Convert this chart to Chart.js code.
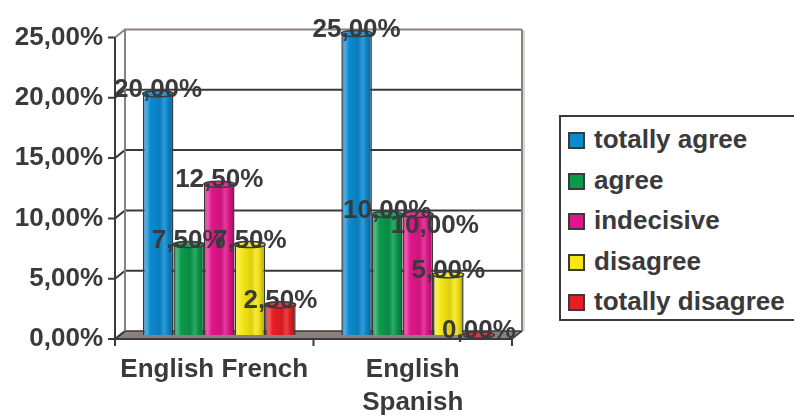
<!DOCTYPE html>
<html>
<head>
<meta charset="utf-8">
<script src="https://cdn.jsdelivr.net/npm/chart.js@4.4.1/dist/chart.umd.min.js"></script>
<style>
  body { margin: 0; background: #fff; }
  #wrap { position: relative; width: 794px; height: 416px; overflow: hidden; }
  #legend {
    position: absolute; left: 559px; top: 115px; width: 260px; height: 202px;
    border: 2px solid #3a3a3c; background: #fff;
    font: bold 26px "Liberation Sans", Arial, sans-serif; color: #3a3a3c;
  }
  #legend div { position: absolute; left: 7px; height: 30px; line-height: 30px; white-space: nowrap; }
  #legend span {
    display: inline-block; width: 13px; height: 13px; border: 2px solid #3a3a3c;
    margin-right: 9px; vertical-align: -1px;
  }
</style>
</head>
<body>
<div id="wrap">
  <canvas id="survey" width="794" height="416"></canvas>
  <div id="legend"></div>
</div>
<script>
(function() {
  "use strict";

  const categories = ['English French', ['English', 'Spanish']];
  const seriesNames = ['totally agree', 'agree', 'indecisive', 'disagree', 'totally disagree'];
  const totallyAgree = [20, 25];
  const agree = [7.5, 10];
  const indecisive = [12.5, 10];
  const disagree = [7.5, 5];
  const totallyDisagree = [2.5, 0];
  const yTicks = [0, 5, 10, 15, 20, 25];
  const colors = ['#0b8ad0', '#0a9a4c', '#e0178a', '#f5e614', '#e81e25'];

  const CAT_PCT = 0.77;
  const DEPTH = { x: 5, y: 4 };
  const INK = '#3a3a3c';
  const WALL = '#8a807c';
  const font = { family: '"Liberation Sans", Arial, sans-serif', size: 26, weight: 'bold', lineHeight: 1.27 };

  // the second 10,00% label is pushed aside so it doesn't sit on its neighbour
  const labelNudge = { '2-1': [17, 15] };

  function pct(v) {
    return v.toFixed(2).replace('.', ',') + '%';
  }

  // lighten (amt > 0) or darken (amt < 0) a hex colour
  function shade(hex, amt) {
    let n = parseInt(hex.slice(1), 16);
    let rgb = [n >> 16, (n >> 8) & 255, n & 255].map(function(c) {
      let v = amt >= 0 ? c + (255 - c) * amt : c * (1 + amt);
      return Math.round(Math.max(0, Math.min(255, v)));
    });
    return 'rgb(' + rgb.join(',') + ')';
  }

  // horizontal gradient so every bar looks like a cylinder
  function cylinder(ctx) {
    let chart = ctx.chart;
    let base = colors[ctx.datasetIndex];
    let xs = chart.scales.x;
    if (!xs || ctx.type !== 'data' || !xs.width) return base;
    let w = xs.width / categories.length * CAT_PCT / seriesNames.length;
    let cx = xs.getPixelForValue(ctx.dataIndex) + (ctx.datasetIndex - (seriesNames.length - 1) / 2) * w;
    let g = chart.ctx.createLinearGradient(cx - w / 2, 0, cx + w / 2, 0);
    g.addColorStop(0, shade(base, 0.05));
    g.addColorStop(0.12, shade(base, 0.3));
    g.addColorStop(0.25, base);
    g.addColorStop(0.55, shade(base, -0.1));
    g.addColorStop(0.7, shade(base, 0.15));
    g.addColorStop(0.82, shade(base, -0.05));
    g.addColorStop(1, shade(base, -0.3));
    return g;
  }

  // back wall, side wall, floor, gridlines and the front axes
  const frame = {
    id: 'frame',
    beforeDatasetsDraw(chart) {
      let c = chart.ctx;
      let a = chart.chartArea;
      let ys = chart.scales.y;
      let dx = DEPTH.x, dy = DEPTH.y;
      c.save();

      // side wall
      c.fillStyle = '#fff';
      c.beginPath();
      c.moveTo(a.left - dx, a.bottom + dy);
      c.lineTo(a.left - dx, a.top + dy);
      c.lineTo(a.left + dx, a.top - dy);
      c.lineTo(a.left + dx, a.bottom - dy);
      c.closePath();
      c.fill();

      // floor
      c.fillStyle = WALL;
      c.strokeStyle = INK;
      c.lineWidth = 1.5;
      c.beginPath();
      c.moveTo(a.left - dx, a.bottom + dy);
      c.lineTo(a.right - dx, a.bottom + dy);
      c.lineTo(a.right + dx, a.bottom - dy);
      c.lineTo(a.left + dx, a.bottom - dy);
      c.closePath();
      c.fill();
      c.stroke();

      // gridlines on the back wall and across the side wall
      c.lineWidth = 2;
      yTicks.forEach(function(v) {
        let y = ys.getPixelForValue(v);
        c.strokeStyle = v === ys.max ? WALL : INK;
        c.beginPath();
        c.moveTo(a.left - dx, y + dy);
        c.lineTo(a.left + dx, y - dy);
        if (v > 0) c.lineTo(a.right + dx, y - dy);
        c.stroke();
      });

      // wall edges
      c.strokeStyle = WALL;
      c.beginPath();
      c.moveTo(a.left + dx, a.bottom - dy);
      c.lineTo(a.left + dx, a.top - dy);
      c.moveTo(a.right + dx, a.top - dy);
      c.lineTo(a.right + dx, a.bottom - dy);
      c.stroke();
      c.strokeStyle = '#d8d6d6';
      c.beginPath();
      c.moveTo(a.right + dx + 2, a.top - dy + 1);
      c.lineTo(a.right + dx + 2, a.bottom - dy);
      c.stroke();

      // front axes with tick marks
      c.strokeStyle = INK;
      c.beginPath();
      c.moveTo(a.left - dx, a.top + dy);
      c.lineTo(a.left - dx, a.bottom + dy);
      c.lineTo(a.right - dx, a.bottom + dy);
      yTicks.forEach(function(v) {
        let y = ys.getPixelForValue(v) + dy;
        c.moveTo(a.left - dx - 7, y);
        c.lineTo(a.left - dx, y);
      });
      let band = (a.right - a.left) / categories.length;
      for (let i = 0; i <= categories.length; i++) {
        let x = a.left - dx + band * i;
        c.moveTo(x, a.bottom + dy);
        c.lineTo(x, a.bottom + dy + 7);
      }
      c.stroke();
      c.restore();
    }
  };

  // cylinder tops and the value labels
  const tops = {
    id: 'tops',
    afterDatasetsDraw(chart) {
      let c = chart.ctx;
      c.save();
      chart.data.datasets.forEach(function(ds, i) {
        chart.getDatasetMeta(i).data.forEach(function(bar) {
          c.fillStyle = shade(colors[i], 0.1);
          c.strokeStyle = INK;
          c.lineWidth = 1.5;
          c.beginPath();
          c.ellipse(bar.x, bar.y, bar.width / 2, 3, 0, 0, Math.PI * 2);
          c.fill();
          c.stroke();
        });
      });
      c.font = 'bold 26px "Liberation Sans", Arial, sans-serif';
      c.fillStyle = INK;
      c.textAlign = 'center';
      c.textBaseline = 'middle';
      chart.data.datasets.forEach(function(ds, i) {
        chart.getDatasetMeta(i).data.forEach(function(bar, j) {
          let n = labelNudge[i + '-' + j] || [0, 0];
          c.fillText(pct(ds.data[j]), bar.x + n[0], bar.y - 4 + n[1]);
        });
      });
      c.restore();
    }
  };

  const values = [totallyAgree, agree, indecisive, disagree, totallyDisagree];

  const chart = new Chart(document.getElementById('survey'), {
    type: 'bar',
    data: {
      labels: categories,
      datasets: seriesNames.map(function(name, i) {
        return {
          label: name,
          data: values[i],
          backgroundColor: cylinder,
          borderColor: INK,
          borderWidth: 1.5,
          categoryPercentage: CAT_PCT,
          barPercentage: 1
        };
      })
    },
    options: {
      responsive: false,
      animation: false,
      layout: { padding: { top: 27, right: 277, left: 0, bottom: 0 } },
      plugins: {
        legend: { display: false },
        tooltip: { enabled: false }
      },
      scales: {
        x: {
          grid: { display: false, drawTicks: false },
          border: { display: false },
          ticks: { font: font, color: INK, padding: 18, labelOffset: -5, maxRotation: 0, autoSkip: false },
          afterFit: function(s) { s.height = 81; }
        },
        y: {
          min: 0,
          max: 25,
          afterBuildTicks: function(s) {
            s.ticks = yTicks.map(function(v) { return { value: v }; });
          },
          grid: { display: false, drawTicks: false },
          border: { display: false },
          ticks: { font: font, color: INK, padding: 17, labelOffset: 4, callback: function(v) { return pct(v); } },
          afterFit: function(s) { s.width = 120; }
        }
      }
    },
    plugins: [frame, tops]
  });

  // legend box beside the plot
  let legend = document.getElementById('legend');
  chart.data.datasets.forEach(function(ds, i) {
    let row = document.createElement('div');
    row.style.top = (7 + i * 40.5) + 'px';
    let sw = document.createElement('span');
    sw.style.background = colors[i];
    row.appendChild(sw);
    row.appendChild(document.createTextNode(ds.label));
    legend.appendChild(row);
  });
})();
</script>
</body>
</html>
